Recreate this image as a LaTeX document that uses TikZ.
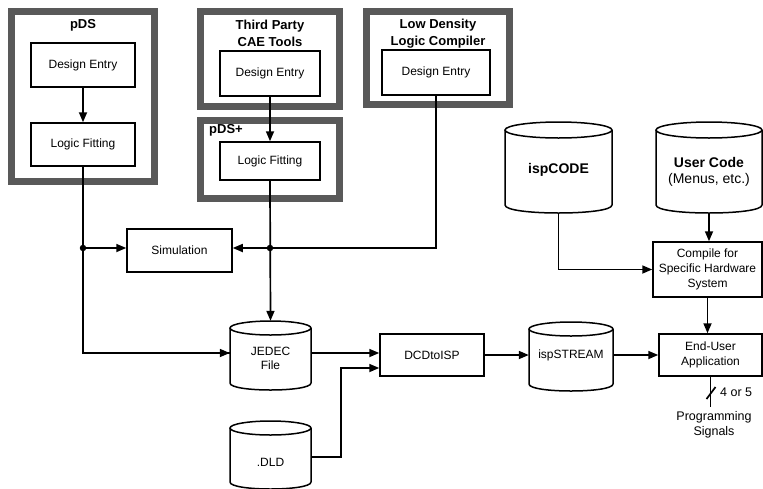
\documentclass[tikz,border=0pt]{standalone}
\usepackage{fontspec}
\setmainfont{Liberation Sans}
\usetikzlibrary{arrows.meta}
\tikzset{
  box/.style={draw, line width=1.5pt, inner sep=0pt, align=center, font=\fontsize{12}{15}\selectfont},
  frame/.style={draw=black!65, line width=7pt},
  title/.style={font=\bfseries\fontsize{13}{17}\selectfont, align=center, inner sep=0pt},
  conn/.style={line width=1.7pt},
  arr/.style={conn, -{Triangle[length=10pt,width=8pt]}},
  jdot/.style={circle, fill, inner sep=0pt, minimum size=6.5pt},
  cylline/.style={draw, line width=1.5pt, fill=white},
  cylbody/.style={inner sep=0pt},
  cyltext/.style={align=center, inner sep=0pt, font=\fontsize{12}{14}\selectfont},
  small/.style={inner sep=0pt, align=center, font=\fontsize{12.5}{15}\selectfont},
}
% name, left, top, right, bottom, ry, text y, text
\newcommand\dbcyl[8]{%
  \pgfmathsetmacro\cylCX{(#2+#4)/2}%
  \pgfmathsetmacro\cylRX{(#4-#2)/2}%
  \pgfmathsetmacro\cylYT{#3+#6}%
  \pgfmathsetmacro\cylYB{#5-#6}%
  \pgfmathsetmacro\cylYC{#5-#6+4/3*#6}%
  \pgfmathsetmacro\cylCY{(#3+#5)/2}%
  \pgfmathsetmacro\cylW{#4-#2}%
  \pgfmathsetmacro\cylH{#5-#3}%
  \draw[cylline] (#2,\cylYT) -- (#2,\cylYB) .. controls (#2,\cylYC) and (#4,\cylYC) .. (#4,\cylYB) -- (#4,\cylYT);
  \draw[cylline] (\cylCX,\cylYT) ellipse ({\cylRX} and {#6});
  \node[cylbody, minimum width=\cylW pt, minimum height=\cylH pt] (#1) at (\cylCX,\cylCY) {};
  \node[cyltext] (#1-t) at (\cylCX,#7) {#8};
}
\begin{document}
\begin{tikzpicture}[x=1pt,y=-1pt]
\useasboundingbox[fill=white] (0,0) rectangle (763,488);

% gray frames
\draw[frame] (11.5,11.5) rectangle (154.5,181.5);
\draw[frame] (200.5,11.5) rectangle (339.5,106.5);
\draw[frame] (200.5,120.5) rectangle (339.5,198.5);
\draw[frame] (366.5,11.5) rectangle (509.5,104.5);

% titles
\node[title] (tpds) at (83,25) {pDS};
\node[title] (ttp) at (270,33.5) {Third Party\\CAE Tools};
\node[title, anchor=west] (tplus) at (209,130) {pDS+};
\node[title] (tld) at (438,33.5) {Low Density\\Logic Compiler};

% boxes
\node[box, minimum width=104pt, minimum height=44pt] (pdsDE) at (83,65) {Design Entry};
\node[box, minimum width=104pt, minimum height=43pt] (pdsLF) at (83,144.5) {Logic Fitting};
\node[box, minimum width=100pt, minimum height=45pt] (tpDE) at (270,73.5) {Design Entry};
\node[box, minimum width=100pt, minimum height=38pt] (plusLF) at (270,161) {Logic Fitting};
\node[box, minimum width=108pt, minimum height=45pt] (ldDE) at (436,72.5) {Design Entry};
\node[box, minimum width=105pt, minimum height=43pt] (sim) at (179.5,250.5) {Simulation};
\node[box, minimum width=104pt, minimum height=42pt] (dcd) at (432,355) {DCDtoISP};
\node[box, minimum width=109pt, minimum height=55pt] (compile) at (707.5,269.5) {Compile for\\Specific Hardware\\System};
\node[box, minimum width=103pt, minimum height=42pt] (endu) at (710.5,355) {End-User\\Application};

% cylinders
\dbcyl{ispcode}{505}{122}{612}{213}{8}{170}{\bfseries\fontsize{14}{18}\selectfont ispCODE}
\dbcyl{usercode}{656}{122}{762}{213}{8}{172}{{\bfseries\fontsize{14}{18}\selectfont User Code}\\[2pt]{\fontsize{14}{18}\selectfont (Menus, etc.)}}
\dbcyl{jedec}{230}{321}{311}{390}{7}{358.5}{JEDEC\\File}
\dbcyl{stream}{529}{322}{613}{391}{7}{355}{ispSTREAM}
\dbcyl{dld}{230}{421}{311}{489}{7}{462}{.DLD}

% connectors
\coordinate (jrow) at (0,248);
\coordinate (jedrow) at (0,353);
\coordinate (dldrow) at (0,457);
\coordinate (dcdrow2) at (0,368);
\coordinate (dldbend) at (341,0);
\coordinate (sigrow) at (0,407);

\draw[arr] (pdsDE.south) -- (pdsLF.north);
\draw[arr] (tpDE.south) -- (plusLF.north);

\coordinate (jl) at (pdsLF.south |- jrow);
\coordinate (jr) at (plusLF.south |- jrow);
\draw[conn] (pdsLF.south) |- (jedec.west |- jedrow) coordinate (jedin);
\draw[arr] (pdsLF.south |- jedrow) -- (jedin);
\draw[arr] (jl) -- (sim.west |- jl);
\draw[arr] (jr) -- (sim.east |- jr);
\draw[conn] (ldDE.south) |- (jr);
\draw[arr] (plusLF.south) -- (jedec.north);
\node[jdot] (dl) at (jl) {};
\node[jdot] (dr) at (jr) {};

\draw[arr] (jedec.east |- jedrow) -- (dcd.west |- jedrow);
\draw[arr] (dld.east |- dldrow) -| (dldbend |- dcdrow2) -- (dcd.west |- dcdrow2);
\draw[arr] (dcd.east) -- (stream.west |- dcd.east);
\draw[arr] (stream.east |- dcd.east) -- (endu.west);
\draw[arr] (ispcode.south) |- (compile.west);
\draw[arr] (usercode.south) -- (usercode.south |- compile.north);
\draw[arr] (compile.south) -- (compile.south |- endu.north);
\draw[conn] (endu.south) -- (endu.south |- sigrow) coordinate (sigend);
\draw[conn] (706.5,399) -- (715.5,387);
\node[small, anchor=west] (bits) at (720,392) {4 or 5};
\node[small] (sig) at (714,425) {Programming\\Signals};
\end{tikzpicture}
\end{document}
